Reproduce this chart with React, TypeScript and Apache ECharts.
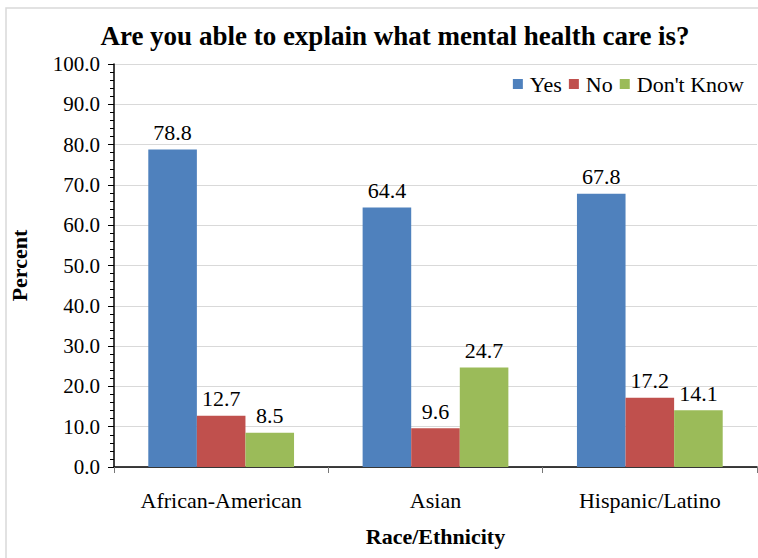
import React, { useEffect, useRef } from "react";
import * as echarts from "echarts";

const categories = ["African-American", "Asian", "Hispanic/Latino"];
const yesValues = [78.8, 64.4, 67.8];
const noValues = [12.7, 9.6, 17.2];
const dontKnowValues = [8.5, 24.7, 14.1];
const seriesNames = ["Yes", "No", "Don't Know"];
const colors = ["#4F81BD", "#C0504D", "#9BBB59"];

const FONT = "'Liberation Serif', 'Times New Roman', serif";

export default function App() {
  const ref = useRef<HTMLDivElement>(null);
  useEffect(() => {
    document.body.style.margin = "0";
    const chart = echarts.init(ref.current!, null, { renderer: "svg" });
    const mk = (name: string, data: number[], color: string) => ({
      name,
      type: "bar",
      data,
      barGap: "0%",
      barCategoryGap: "32%",
      itemStyle: { color },
      label: {
        show: true,
        position: "top",
        distance: 6,
        color: "#000",
        fontFamily: FONT,
        fontSize: 22,
        formatter: (p: any) => p.value.toFixed(1),
      },
    });
    chart.setOption({
      animation: false,
      textStyle: { fontFamily: FONT },
      title: {
        text: "Are you able to explain what mental health care is?",
        left: 390,
        textAlign: "center",
        top: 17,
        textStyle: { fontFamily: FONT, fontSize: 27, fontWeight: "bold", color: "#000" },
      },
      legend: {
        data: seriesNames,
        right: 9,
        top: 68,
        itemWidth: 10,
        itemHeight: 10,
        itemGap: 7,
        icon: "rect",
        textStyle: { fontFamily: FONT, fontSize: 22, color: "#000", padding: [0, 0, 0, 2] },
      },
      grid: { left: 110, right: 1, top: 64, bottom: 91, containLabel: false },
      xAxis: {
        type: "category",
        data: categories,
        name: "Race/Ethnicity",
        nameLocation: "middle",
        nameGap: 58,
        nameTextStyle: { fontFamily: FONT, fontSize: 22, fontWeight: "bold", color: "#000" },
        axisLine: { lineStyle: { color: "#000", width: 1.5 } },
        axisTick: { show: true, length: 6, lineStyle: { color: "#777" } },
        axisLabel: { margin: 22, fontFamily: FONT, fontSize: 22, color: "#000" },
      },
      yAxis: {
        type: "value",
        min: 0,
        max: 100,
        interval: 10,
        name: "Percent",
        nameLocation: "middle",
        nameGap: 84,
        nameTextStyle: { fontFamily: FONT, fontSize: 22, fontWeight: "bold", color: "#000" },
        axisLine: { show: true, lineStyle: { color: "#000", width: 1.5 } },
        axisTick: { show: true, length: 6, lineStyle: { color: "#000" } },
        minorTick: { show: true, splitNumber: 5, length: 4, lineStyle: { color: "#000" } },
        axisLabel: {
          margin: 14,
          fontFamily: FONT,
          fontSize: 21,
          color: "#000",
          formatter: (v: number) => v.toFixed(1),
        },
        splitLine: { show: true, lineStyle: { color: "#d9d9d9", width: 1 } },
      },
      series: [
        mk(seriesNames[0], yesValues, colors[0]),
        mk(seriesNames[1], noValues, colors[1]),
        mk(seriesNames[2], dontKnowValues, colors[2]),
      ],
      graphic: [
        {
          type: "rect",
          shape: { x: 6, y: 8, width: 780, height: 580 },
          style: { fill: "none", stroke: "#d9d9d9", lineWidth: 1.5 },
          silent: true,
          z: -1,
        },
      ],
    });
    return () => chart.dispose();
  }, []);
  return <div ref={ref} style={{ width: 758, height: 558 }} />;
}
